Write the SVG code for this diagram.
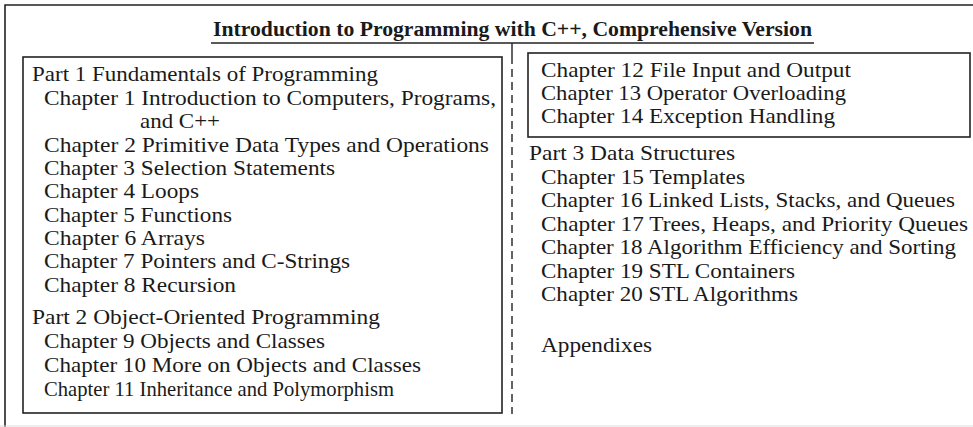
<svg xmlns="http://www.w3.org/2000/svg" width="973" height="427" viewBox="0 0 973 427">
<style>
.t{font-family:"Liberation Serif","Times New Roman",serif;font-size:21px;fill:#1a1a1a}
.ttl{font-family:"Liberation Serif","Times New Roman",serif;font-size:20px;font-weight:bold;fill:#1a1a1a}
.box{fill:none;stroke:#222;stroke-width:1.6}
</style>
<rect width="973" height="427" fill="#fff"/>
<g id="frame">
<polyline points="5,427 5,5 973,5" class="box"/>
<line x1="0" y1="426" x2="973" y2="426" stroke="#ddd" stroke-width="1"/>
</g>
<g id="title">
<text class="ttl" x="213" y="36" textLength="599" lengthAdjust="spacingAndGlyphs">Introduction to Programming with C++, Comprehensive Version</text>
<line x1="211" y1="43" x2="814" y2="43" stroke="#222" stroke-width="1.6"/>
</g>
<g id="connectors">
<line x1="512" y1="43" x2="512" y2="56" stroke="#222" stroke-width="1.4"/>
<line x1="512" y1="56" x2="512" y2="414" stroke="#222" stroke-width="1.4" stroke-dasharray="8,5"/>
</g>
<g id="part1">
<rect x="23" y="57" width="479" height="356" class="box"/>
<text class="t" x="32" y="81" textLength="346" lengthAdjust="spacingAndGlyphs">Part 1 Fundamentals of Programming</text>
<text class="t" x="44" y="104.5" textLength="452" lengthAdjust="spacingAndGlyphs">Chapter 1 Introduction to Computers, Programs,</text>
<text class="t" x="140" y="128" textLength="80" lengthAdjust="spacingAndGlyphs">and C++</text>
<text class="t" x="44" y="151.5" textLength="445" lengthAdjust="spacingAndGlyphs">Chapter 2 Primitive Data Types and Operations</text>
<text class="t" x="44" y="175" textLength="291" lengthAdjust="spacingAndGlyphs">Chapter 3 Selection Statements</text>
<text class="t" x="44" y="198" textLength="155" lengthAdjust="spacingAndGlyphs">Chapter 4 Loops</text>
<text class="t" x="44" y="221.5" textLength="188" lengthAdjust="spacingAndGlyphs">Chapter 5 Functions</text>
<text class="t" x="44" y="245" textLength="161" lengthAdjust="spacingAndGlyphs">Chapter 6 Arrays</text>
<text class="t" x="44" y="268" textLength="306" lengthAdjust="spacingAndGlyphs">Chapter 7 Pointers and C-Strings</text>
<text class="t" x="44" y="291.5" textLength="192" lengthAdjust="spacingAndGlyphs">Chapter 8 Recursion</text>
</g>
<g id="part2">
<text class="t" x="32" y="324" textLength="348" lengthAdjust="spacingAndGlyphs">Part 2 Object-Oriented Programming</text>
<text class="t" x="44" y="348" textLength="281" lengthAdjust="spacingAndGlyphs">Chapter 9 Objects and Classes</text>
<text class="t" x="44" y="372" textLength="377" lengthAdjust="spacingAndGlyphs">Chapter 10 More on Objects and Classes</text>
<text class="t" x="44" y="396" textLength="350" lengthAdjust="spacingAndGlyphs">Chapter 11 Inheritance and Polymorphism</text>
</g>
<g id="part2b">
<rect x="528" y="53" width="442" height="84" class="box"/>
<text class="t" x="541" y="77" textLength="310" lengthAdjust="spacingAndGlyphs">Chapter 12 File Input and Output</text>
<text class="t" x="541" y="100" textLength="305" lengthAdjust="spacingAndGlyphs">Chapter 13 Operator Overloading</text>
<text class="t" x="541" y="123" textLength="294" lengthAdjust="spacingAndGlyphs">Chapter 14 Exception Handling</text>
</g>
<g id="part3">
<text class="t" x="529" y="160" textLength="206" lengthAdjust="spacingAndGlyphs">Part 3 Data Structures</text>
<text class="t" x="541" y="184" textLength="204" lengthAdjust="spacingAndGlyphs">Chapter 15 Templates</text>
<text class="t" x="541" y="207" textLength="414" lengthAdjust="spacingAndGlyphs">Chapter 16 Linked Lists, Stacks, and Queues</text>
<text class="t" x="541" y="231" textLength="427" lengthAdjust="spacingAndGlyphs">Chapter 17 Trees, Heaps, and Priority Queues</text>
<text class="t" x="541" y="254" textLength="415" lengthAdjust="spacingAndGlyphs">Chapter 18 Algorithm Efficiency and Sorting</text>
<text class="t" x="541" y="278" textLength="254" lengthAdjust="spacingAndGlyphs">Chapter 19 STL Containers</text>
<text class="t" x="541" y="301" textLength="257" lengthAdjust="spacingAndGlyphs">Chapter 20 STL Algorithms</text>
</g>
<g id="appendixes">
<text class="t" x="541" y="352" textLength="111" lengthAdjust="spacingAndGlyphs">Appendixes</text>
</g>
</svg>
